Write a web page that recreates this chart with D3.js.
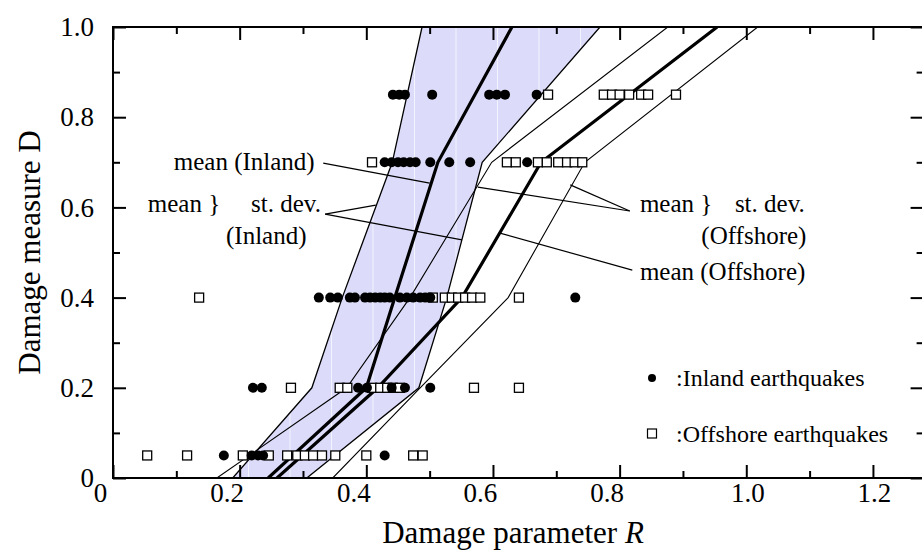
<!DOCTYPE html>
<html>
<head>
<meta charset="utf-8">
<script src="https://cdn.jsdelivr.net/npm/d3@7"></script>
<style>
  body { margin: 0; background: #fff; }
  svg { display: block; font-family: "Liberation Serif", "Times New Roman", serif; }
</style>
</head>
<body>
<div id="chart"></div>
<script>
// Damage levels of the observed points
const levels = [0.05, 0.2, 0.4, 0.7, 0.85];

// Inland earthquakes: damage parameter R at each level
const inland005 = [0.175, 0.219, 0.229, 0.237, 0.429];
const inland02 = [0.221, 0.235, 0.387, 0.401, 0.440, 0.461, 0.501];
const inland04 = [0.325, 0.343, 0.355, 0.374, 0.382, 0.398, 0.406, 0.414, 0.422, 0.429, 0.437, 0.453, 0.464, 0.474, 0.485, 0.493, 0.501, 0.730];
const inland07 = [0.429, 0.440, 0.450, 0.459, 0.469, 0.478, 0.501, 0.531, 0.564, 0.654];
const inland085 = [0.442, 0.452, 0.461, 0.504, 0.594, 0.606, 0.619, 0.669];

// Offshore earthquakes: damage parameter R at each level
const offshore005 = [0.054, 0.117, 0.205, 0.246, 0.275, 0.291, 0.303, 0.316, 0.330, 0.351, 0.400, 0.474, 0.489];
const offshore02 = [0.281, 0.358, 0.370, 0.409, 0.422, 0.433, 0.442, 0.453, 0.570, 0.641];
const offshore04 = [0.136, 0.505, 0.524, 0.535, 0.545, 0.556, 0.567, 0.580, 0.641];
const offshore07 = [0.409, 0.622, 0.636, 0.671, 0.685, 0.703, 0.717, 0.729, 0.741];
const offshore085 = [0.687, 0.775, 0.788, 0.800, 0.815, 0.834, 0.845, 0.889];

// Fitted curves (mean and mean +/- st. dev.) at these damage values
const knotD = [0, 0.2, 0.4, 0.7, 1.0];
const inlandMean = [0.245, 0.400, 0.445, 0.513, 0.630];
const inlandLower = [0.189, 0.314, 0.362, 0.441, 0.488];
const inlandUpper = [0.306, 0.483, 0.527, 0.583, 0.769];
const offshoreMean = [0.259, 0.418, 0.551, 0.676, 0.954];
const offshoreLower = [0.164, 0.369, 0.469, 0.598, 0.876];
const offshoreUpper = [0.347, 0.485, 0.624, 0.745, 1.018];

// Tick values
const xMajor = [0, 0.2, 0.4, 0.6, 0.8, 1.0, 1.2];
const xMinor = [0.1, 0.3, 0.5, 0.7, 0.9, 1.1];
const yMajor = [0, 0.2, 0.4, 0.6, 0.8, 1.0];
const yMinor = [0.1, 0.3, 0.5, 0.7, 0.9];

const width = 922;
const height = 552;
const margin = { top: 27, left: 113, bottom: 74 };

const x = d3.scaleLinear().domain([0, 1.28]).range([margin.left, margin.left + 810.6]);
const y = d3.scaleLinear().domain([0, 1]).range([height - margin.bottom, margin.top]);

const svg = d3.select("#chart").append("svg")
  .attr("width", width)
  .attr("height", height);

// light texture used for the st. dev. band
const defs = svg.append("defs");
const pat = defs.append("pattern")
  .attr("id", "band")
  .attr("patternUnits", "userSpaceOnUse")
  .attr("x", 0).attr("y", 0)
  .attr("width", 41.5).attr("height", 215);
pat.append("rect").attr("width", 41.5).attr("height", 215).attr("fill", "#dcdcfa");
pat.append("rect").attr("x", 40.5).attr("width", 1).attr("height", 215).attr("fill", "#f4f4ff");

defs.append("clipPath").attr("id", "plot")
  .append("rect")
  .attr("x", x(0)).attr("y", y(1))
  .attr("width", x(1.28) - x(0)).attr("height", y(0) - y(1));

const plot = svg.append("g").attr("clip-path", "url(#plot)");

// shaded band for inland mean +/- st. dev.
const band = knotD.map((d, i) => ({ d: d, lo: inlandLower[i], hi: inlandUpper[i] }));
plot.append("path")
  .datum(band)
  .attr("fill", "url(#band)")
  .attr("d", d3.area().y(p => y(p.d)).x0(p => x(p.lo)).x1(p => x(p.hi)));

const line = d3.line().x(p => x(p[0])).y(p => y(p[1]));
const curves = [
  { r: inlandLower, w: 1.3 },
  { r: inlandUpper, w: 1.3 },
  { r: offshoreLower, w: 1.1 },
  { r: offshoreUpper, w: 1.1 },
  { r: inlandMean, w: 3.2 },
  { r: offshoreMean, w: 3.2 }
];
plot.selectAll("path.curve")
  .data(curves)
  .enter()
  .append("path")
  .attr("class", "curve")
  .attr("fill", "none")
  .attr("stroke", "#000")
  .attr("stroke-width", c => c.w)
  .attr("d", c => line(c.r.map((r, i) => [r, knotD[i]])));

// annotation labels and their leader lines (positions in data units)
const leaders = [
  [[0.332, 0.698], [0.500, 0.654]],   // mean (Inland)
  [[0.335, 0.585], [0.551, 0.528]],   // st. dev. (Inland) -> upper edge
  [[0.335, 0.585], [0.415, 0.605]],   // st. dev. (Inland) -> lower edge
  [[0.611, 0.543], [0.820, 0.461]],   // mean (Offshore)
  [[0.576, 0.645], [0.816, 0.592]],   // st. dev. (Offshore) -> lower
  [[0.722, 0.650], [0.816, 0.592]]    // st. dev. (Offshore) -> upper
];
svg.append("g")
  .selectAll("line")
  .data(leaders)
  .enter()
  .append("line")
  .attr("x1", l => x(l[0][0])).attr("y1", l => y(l[0][1]))
  .attr("x2", l => x(l[1][0])).attr("y2", l => y(l[1][1]))
  .attr("stroke", "#000")
  .attr("stroke-width", 1.2);

const notes = [
  { t: "mean (Inland)", r: 0.096, d: 0.683, anchor: "start" },
  { t: "mean }", r: 0.055, d: 0.590, anchor: "start" },
  { t: "st. dev.", r: 0.218, d: 0.590, anchor: "start" },
  { t: "(Inland)", r: 0.242, d: 0.519, anchor: "middle" },
  { t: "mean }", r: 0.832, d: 0.590, anchor: "start" },
  { t: "st. dev.", r: 0.982, d: 0.590, anchor: "start" },
  { t: "(Offshore)", r: 1.012, d: 0.519, anchor: "middle" },
  { t: "mean (Offshore)", r: 0.832, d: 0.439, anchor: "start" }
];
svg.append("g")
  .selectAll("text")
  .data(notes)
  .enter()
  .append("text")
  .attr("x", n => x(n.r))
  .attr("y", n => y(n.d))
  .attr("text-anchor", n => n.anchor)
  .attr("font-size", 25)
  .text(n => n.t);

// observed points
const pointRows = (rows) => rows.flatMap((row, i) => row.map(r => ({ r: r, d: levels[i] })));
const inlandPts = pointRows([inland005, inland02, inland04, inland07, inland085]);
const offshorePts = pointRows([offshore005, offshore02, offshore04, offshore07, offshore085]);

svg.append("g")
  .selectAll("rect")
  .data(offshorePts)
  .enter()
  .append("rect")
  .attr("x", p => x(p.r) - 4.5)
  .attr("y", p => y(p.d) - 4.5)
  .attr("width", 9).attr("height", 9)
  .attr("fill", "#fff")
  .attr("stroke", "#000")
  .attr("stroke-width", 1.3);

svg.append("g")
  .selectAll("circle")
  .data(inlandPts)
  .enter()
  .append("circle")
  .attr("cx", p => x(p.r))
  .attr("cy", p => y(p.d))
  .attr("r", 5)
  .attr("fill", "#000");

// axes: ticks point inward on all four sides
const fmt = d => d === 0 ? "0" : d.toFixed(1);
function styleAxis(g) {
  g.select(".domain").remove();
  g.selectAll(".tick line").attr("stroke", "#000").attr("stroke-width", 2);
  g.selectAll(".tick text").attr("fill", "#000").attr("font-size", 27)
    .attr("font-family", "Liberation Serif, Times New Roman, serif");
}

svg.append("g").attr("transform", `translate(0,${y(0)})`)
  .call(d3.axisBottom(x).tickValues(xMajor).tickSize(-13).tickPadding(5).tickFormat(fmt))
  .call(styleAxis)
  .selectAll(".tick text")
  .attr("dx", d => d < 0.9 ? -13 : 1);
svg.append("g").attr("transform", `translate(0,${y(0)})`)
  .call(d3.axisBottom(x).tickValues(xMinor).tickSize(-7).tickFormat(""))
  .call(styleAxis);
svg.append("g").attr("transform", `translate(0,${y(1)})`)
  .call(d3.axisTop(x).tickValues(xMajor).tickSize(-13).tickFormat(""))
  .call(styleAxis);
svg.append("g").attr("transform", `translate(0,${y(1)})`)
  .call(d3.axisTop(x).tickValues(xMinor).tickSize(-7).tickFormat(""))
  .call(styleAxis);
svg.append("g").attr("transform", `translate(${x(0)},0)`)
  .call(d3.axisLeft(y).tickValues(yMajor).tickSize(-13).tickPadding(19).tickFormat(fmt))
  .call(styleAxis);
svg.append("g").attr("transform", `translate(${x(0)},0)`)
  .call(d3.axisLeft(y).tickValues(yMinor).tickSize(-7).tickFormat(""))
  .call(styleAxis);
svg.append("g").attr("transform", `translate(${x(1.28)},0)`)
  .call(d3.axisRight(y).tickValues(yMajor).tickSize(-13).tickFormat(""))
  .call(styleAxis);
svg.append("g").attr("transform", `translate(${x(1.28)},0)`)
  .call(d3.axisRight(y).tickValues(yMinor).tickSize(-7).tickFormat(""))
  .call(styleAxis);

// frame
svg.append("rect")
  .attr("x", x(0)).attr("y", y(1))
  .attr("width", x(1.28) - x(0)).attr("height", y(0) - y(1))
  .attr("fill", "none")
  .attr("stroke", "#000")
  .attr("stroke-width", 2);

// axis titles
const xTitle = svg.append("text")
  .attr("x", 513).attr("y", 543)
  .attr("text-anchor", "middle")
  .attr("font-size", 31)
  .text("Damage parameter ");
xTitle.append("tspan").attr("font-style", "italic").text("R");

svg.append("text")
  .attr("transform", `translate(40,${(y(0) + y(1)) / 2}) rotate(-90)`)
  .attr("text-anchor", "middle")
  .attr("font-size", 31)
  .text("Damage measure D");

// legend
const legend = svg.append("g").attr("transform", "translate(652,378)");
legend.append("circle").attr("r", 4).attr("fill", "#000");
legend.append("text").attr("x", 24).attr("y", 8).attr("font-size", 24).text(":Inland earthquakes");
legend.append("rect").attr("x", -4.5).attr("y", 51).attr("width", 9).attr("height", 9)
  .attr("fill", "#fff").attr("stroke", "#000").attr("stroke-width", 1.2);
legend.append("text").attr("x", 24).attr("y", 64).attr("font-size", 24).text(":Offshore earthquakes");
</script>
</body>
</html>
